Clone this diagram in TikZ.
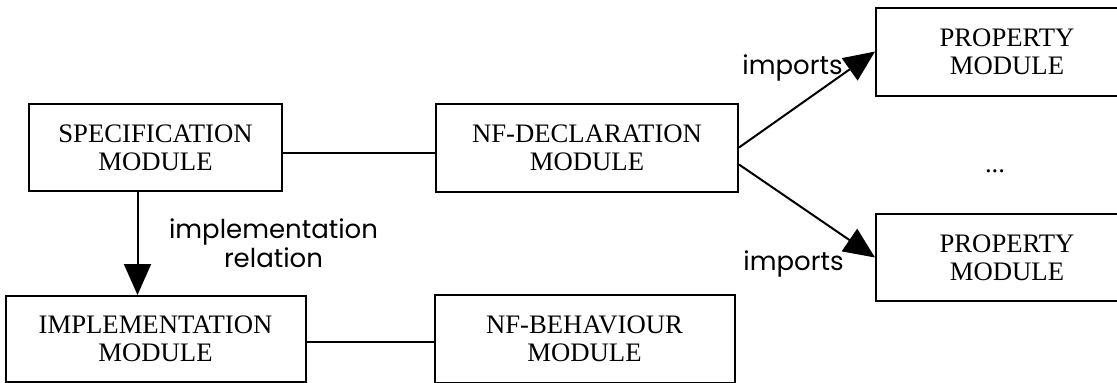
\documentclass[tikz,border=0pt]{standalone}
\usepackage{fontspec}
\setmainfont{Liberation Serif}
\newfontfamily\relfont{Poppins}
\usetikzlibrary{positioning,arrows.meta}

\begin{document}
\begin{tikzpicture}[x=0.5pt, y=-0.5pt,
modulenode/.style={rectangle, draw=black, line width=1pt, align=center, inner sep=0pt, font=\fontsize{13.35}{14.2}\selectfont},
relnode/.style={inner sep=0pt, align=center, font=\relfont\fontsize{13}{14.5}\selectfont},
bigarrow/.style={line width=1pt, -{Triangle[length=15.5pt, width=13.5pt]}},
]
\useasboundingbox (0,0) rectangle (1117,382);

%Nodes
\node[modulenode, minimum width=126.5pt, minimum height=43.5pt] (spec)   at (155.5,147.5)        {SPECIFICATION\\MODULE};
\node[modulenode, minimum width=151pt, minimum height=44pt]     (nfdecl) [right=76pt of spec]     {NF-DECLARATION\\MODULE};
\node[modulenode, minimum width=150pt, minimum height=43pt]     (impl)   [below=51.5pt of spec]   {IMPLEMENTATION\\MODULE};
\node[modulenode, minimum width=150pt, minimum height=44pt]     (nfbeh)  [right=63.5pt of impl]   {NF-BEHAVIOUR\\MODULE};
\node[modulenode, minimum width=131pt, minimum height=44pt]     (propa)  [right=68pt of nfdecl, yshift=48pt]  {PROPERTY\\MODULE};
\node[modulenode, minimum width=131pt, minimum height=43.5pt]   (propb)  [right=68pt of nfdecl, yshift=-55pt] {PROPERTY\\MODULE};
\node[font=\fontsize{13.35}{14.2}\selectfont] (dots) at (995,171) {...};

%Labels
\node[relnode] (implrel) [below=13pt of spec.south, xshift=59pt] {implementation\\relation};
\node[relnode] (importsa) [left=16pt of propa.west, yshift=-8pt] {imports};
\node[relnode] (importsb) [left=15.5pt of propb.west, yshift=-3.25pt] {imports};

%Lines
\draw[line width=1pt] ([yshift=-2.75pt]spec.east) -- ([yshift=-2.75pt]spec.east -| nfdecl.west);
\draw[line width=1pt] ([yshift=-1.5pt]impl.east) -- ([yshift=-1.5pt]impl.east -| nfbeh.west);
\draw[bigarrow] ([xshift=-9pt]spec.south) -- ([xshift=-9pt]spec.south |- impl.north);
\draw[bigarrow] (nfdecl.east) -- (propa.west);
\draw[bigarrow] ([yshift=-8.5pt]nfdecl.east) -- (propb.west);
\end{tikzpicture}
\end{document}
